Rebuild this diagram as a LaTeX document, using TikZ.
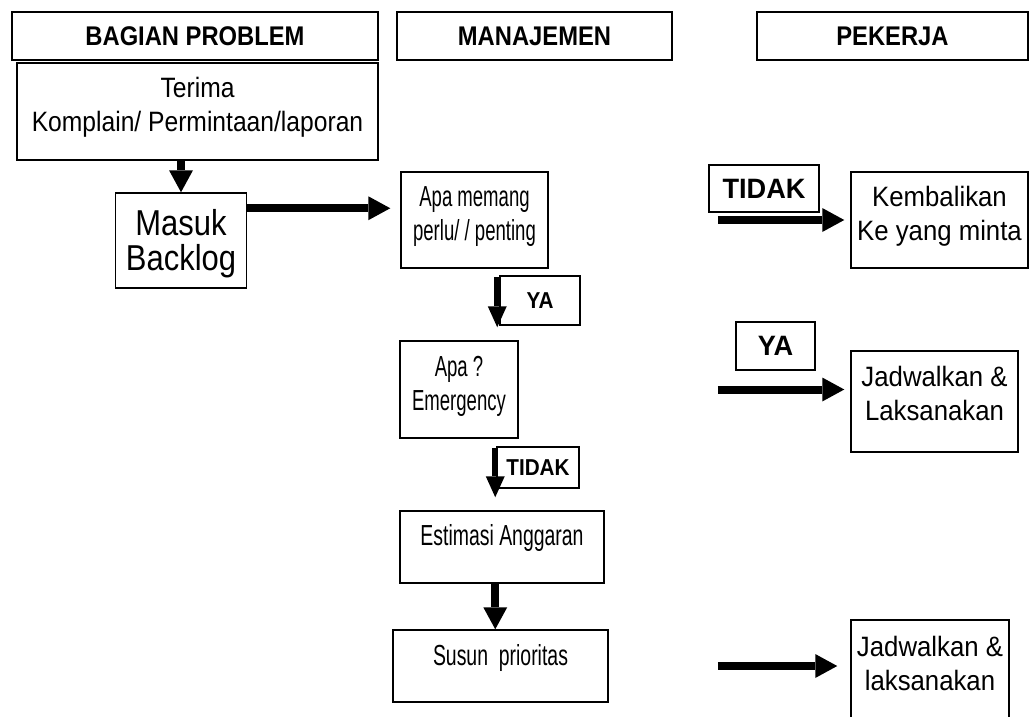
\documentclass[tikz,border=0pt]{standalone}
\usepackage{fontspec}
\setmainfont{Liberation Sans}
% condensed cuts of the same sans family for the different boxes
\newfontfamily\fntTop[FakeStretch=0.88]{Liberation Sans}
\newfontfamily\fntBig[FakeStretch=0.86]{Liberation Sans}
\newfontfamily\fntMid[FakeStretch=0.64]{Liberation Sans}
\newfontfamily\fntLow[FakeStretch=0.67]{Liberation Sans}
\newfontfamily\fntRight[FakeStretch=0.92]{Liberation Sans}
\newfontfamily\fntHead[FakeStretch=0.88]{Liberation Sans}
\newfontfamily\fntTag[FakeStretch=0.97]{Liberation Sans}
\newfontfamily\fntTagS[FakeStretch=0.90]{Liberation Sans}
\usetikzlibrary{arrows.meta,calc}
\tikzset{
  frame/.style={draw, line width=1.5pt, inner sep=0pt},
  txt/.style={align=center, inner sep=0pt},
  toptxt/.style={txt, font=\fntTop\fontsize{28}{34}\selectfont},
  bigtxt/.style={txt, font=\fntBig\fontsize{36}{35}\selectfont},
  midtxt/.style={txt, font=\fntMid\fontsize{29}{34}\selectfont},
  lowtxt/.style={txt, font=\fntLow\fontsize{29}{34}\selectfont},
  righttxt/.style={txt, font=\fntRight\fontsize{28}{34}\selectfont},
  hdr/.style={frame, font=\fntHead\bfseries\fontsize{27}{30}\selectfont},
  lbl/.style={frame, font=\fntTag\bfseries\fontsize{28}{30}\selectfont},
  lbls/.style={frame, font=\fntTagS\bfseries\fontsize{23}{26}\selectfont},
  arr/.style={line width=8pt, -{Triangle[length=22pt,width=24pt,line width=0pt]}},
  arrs/.style={line width=6pt, -{Triangle[length=21pt,width=19pt,line width=0pt]}},
}
\begin{document}
\begin{tikzpicture}[x=1pt,y=-1pt]
\useasboundingbox (0,0) rectangle (1029,717);
\clip (0,0) rectangle (1029,717);

% column headers
\node[hdr, minimum width=366pt, minimum height=48pt] (h1) at (195,36) {BAGIAN PROBLEM};
\node[hdr, minimum width=275pt, minimum height=48pt] (h2) at (534.5,36) {MANAJEMEN};
\node[hdr, minimum width=271pt, minimum height=48pt] (h3) at (892.5,36) {PEKERJA};

% Bagian Problem column
\node[frame, minimum width=361pt, minimum height=97pt] (terima) at (197.5,111.5) {};
\node[toptxt] (terima-t) at (197.5,107) {Terima\\Komplain/ Permintaan/laporan};
\node[frame, minimum width=131pt, minimum height=95pt] (masuk) at (181,240.5) {};
\node[bigtxt] (masuk-t) at (181,244) {Masuk\\Backlog};

% Manajemen column
\node[frame, minimum width=147pt, minimum height=96pt] (apa) at (474.5,220) {};
\node[midtxt] (apa-t) at (474.5,217) {Apa memang\\perlu/ / penting};
\node[lbls, minimum width=80pt, minimum height=49pt] (ya1) at (540,300.5) {YA};
\node[frame, minimum width=118pt, minimum height=97pt] (emerg) at (459,389.5) {};
\node[midtxt] (emerg-t) at (459,386) {Apa ?\\Emergency};
\node[lbls, minimum width=82pt, minimum height=41pt] (tidak2) at (538,467.5) {TIDAK};
\node[frame, minimum width=204pt, minimum height=72pt] (estim) at (502,547) {};
\node[lowtxt] (estim-t) at (502,538) {Estimasi Anggaran};
\node[frame, minimum width=215pt, minimum height=72pt] (susun) at (500.5,666) {};
\node[lowtxt] (susun-t) at (500.5,658) {Susun\ \ prioritas};

% Pekerja column
\node[lbl, minimum width=110pt, minimum height=47pt] (tidak1) at (764,188.5) {TIDAK};
\node[frame, minimum width=177pt, minimum height=96pt] (kemb) at (939.5,220) {};
\node[righttxt] (kemb-t) at (939.5,216) {Kembalikan\\Ke yang minta};
\node[lbl, minimum width=79pt, minimum height=48pt] (ya2) at (775.5,346) {YA};
\node[frame, minimum width=167pt, minimum height=101pt] (jad1) at (934.5,401.5) {};
\node[righttxt] (jad1-t) at (934.5,393) {Jadwalkan \&\\Laksanakan};
\node[frame, minimum width=158pt, minimum height=110pt] (jad2) at (930,675) {};
\node[righttxt] (jad2-t) at (930,663) {Jadwalkan \&\\laksanakan};

% helper points for the arrows
\coordinate (bk) at ($(masuk.north east)+(0,16)$);
\coordinate (c1) at ($(ya1.west)+(-2,0)$);
\coordinate (c2) at ($(tidak2.west)+(-1,0)$);

% connectors
\draw[arr] (terima.south -| masuk.north) -- (masuk.north);
\draw[arr, shorten >=10pt] (bk) -- (bk -| apa.west);
\draw[arrs, shorten <=8pt, shorten >=13pt] (apa.south -| c1) -- (emerg.north -| c1);
\draw[arrs, shorten <=9pt, shorten >=13pt] (emerg.south -| c2) -- (estim.north -| c2);
\draw[arr] (estim.south -| c2) -- (susun.north -| c2);
\draw[arr, shorten <=169pt, shorten >=6pt] (apa.east) -- (apa.east -| kemb.west);
\draw[arr, shorten <=199pt, shorten >=6pt] (emerg.east) -- (emerg.east -| jad1.west);
\draw[arr, shorten <=109pt, shorten >=13pt] (susun.east) -- (susun.east -| jad2.west);
\end{tikzpicture}
\end{document}
